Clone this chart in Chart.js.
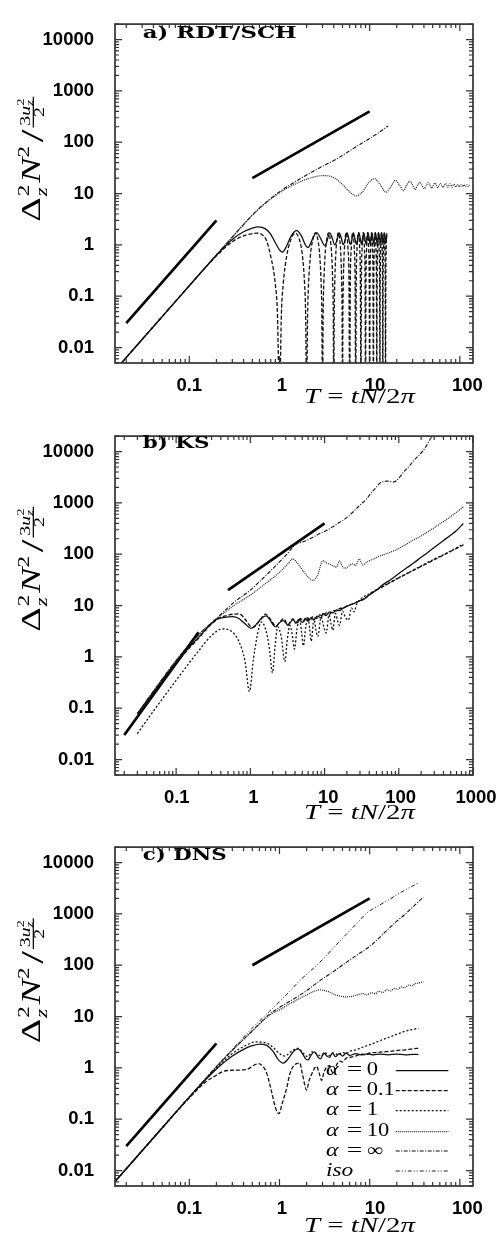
<!DOCTYPE html>
<html><head><meta charset="utf-8">
<script src="https://cdn.jsdelivr.net/npm/chart.js@4.4.1/dist/chart.umd.min.js"></script>
<style>
html,body{margin:0;padding:0;background:#fff;width:498px;height:1239px;overflow:hidden;position:relative}
canvas{position:absolute;left:0}
</style></head><body>
<canvas id="ca" width="498" height="416" style="top:0px;width:498px;height:416px"></canvas>
<canvas id="cb" width="498" height="416" style="top:412px;width:498px;height:416px"></canvas>
<canvas id="cc" width="498" height="416" style="top:823px;width:498px;height:416px"></canvas>
<script>
// ---------- tick values / labels ----------
const Y_TICKS=[0.01,0.1,1,10,100,1000,10000];
const Y_LABELS=['0.01','0.1','1','10','100','1000','10000'];
const AC_X_TICKS=[0.1,1,10,100];
const AC_X_LABELS=['0.1','1','10','100'];
const B_X_TICKS=[0.1,1,10,100,1000];
const B_X_LABELS=['0.1','1','10','100','1000'];
const LEGEND_NAMES=['α','α','α','α','α','iso'];
const LEGEND_VALUES=['0','0.1','1','10','∞',''];
const LEGEND_KEYS=['a0','a01','a1','a10','ainf','iso'];

// ---------- panel a) RDT/SCH : [T, value] ----------
const A_REF_T2=[[0.02,0.03],[0.2,3]];
const A_REF_T=[[0.5,20],[10,400]];
const A_ALPHAINF=[[0.015,0.0036],[0.05,0.04],[0.1,0.16],[0.2,0.64],[0.3,1.42],[0.5,3.8],[0.7,6.6],[1,10.8],[1.5,17],[2,23],[3,34],[4,44],[6,68],[8,93],[10,118],[13,160],[16,207]];
const A_ALPHA10=[[0.015,0.0036],[0.05,0.04],[0.1,0.16],[0.2,0.64],[0.3,1.42],[0.5,3.8],[0.7,6.5],[1,10.3],[1.4,14.5],[2,19],[3.06,22.4],[4,20.5],[5,15],[6,10.8],[7.06,9],[8.2,10.5],[9.7,16],[11.3,19.5],[13.2,14.5],[15.2,10.6],[17.3,14],[19.3,18.1],[21.5,14.5],[23.7,11.4],[25.7,14.5],[27.8,17.4],[30,14.5],[32,12],[34,14.5],[36,16.8],[38,14.5],[40.3,12.4],[42.5,14.5],[44.5,16.4],[46.5,14.5],[48.6,12.7],[50.7,14.5],[52.8,16],[55,14.5],[57,12.9],[59,14.5],[61,15.8],[63,14.5],[65.3,13.1],[67.5,14.5],[69.5,15.6],[71.5,14.5],[73.6,13.2],[75.8,14.4],[77.8,15.4],[80,14.4],[82,13.3],[84,14.4],[86,15.2],[88,14.4],[90.3,13.4],[92.5,14.4],[94.5,15.1],[96.5,14.4],[98.6,13.5],[100.7,14.4],[102.8,15],[105,14.3],[107,13.6],[109,14.3],[111,14.9],[113,14.3],[115.3,13.6],[117.5,14.3],[119.5,14.8],[121.5,14.3],[123.6,13.7],[126,14.2],[128,14.7]];
const A_ALPHA0=[[0.015,0.0036],[0.05,0.04],[0.1,0.16],[0.2,0.63],[0.3,1.28],[0.4,1.8],[0.5,2.12],[0.58,2.24],[0.7,2.05],[0.8,1.6],[0.9,1.1],[1,0.8],[1.08,0.72],[1.2,0.95],[1.35,1.5],[1.55,1.89],[1.75,1.5],[1.95,0.98],[2.08,0.89],[2.25,1.15],[2.58,1.74],[2.85,1.35],[3.2,0.96],[3.35,1.15],[3.6,1.72],[3.85,1.35],
[4.1,1.0],[4.35,1.25],[4.6,1.72],[4.85,1.35],[5.1,1.01],[5.35,1.25],[5.6,1.73],[5.85,1.36],[6.1,1.02],[6.35,1.26],[6.6,1.72],[6.85,1.36],[7.1,1.03],[7.35,1.27],[7.6,1.73],[7.85,1.37],[8.1,1.03],[8.35,1.27],[8.6,1.72],[8.85,1.37],[9.1,1.04],[9.35,1.28],[9.6,1.73],[9.85,1.38],[10.1,1.04],[10.35,1.28],[10.6,1.72],[10.85,1.38],[11.1,1.05],[11.35,1.29],[11.6,1.73],[11.85,1.38],[12.1,1.05],[12.35,1.29],[12.6,1.72],[12.85,1.39],[13.1,1.06],[13.35,1.3],[13.6,1.73],[13.85,1.39],[14.1,1.06],[14.35,1.3],[14.6,1.72],[14.85,1.4],[15.1,1.07],[15.35,1.3],[15.5,1.5]];
const A_ALPHA01=[[0.015,0.0036],[0.05,0.04],[0.1,0.16],[0.2,0.61],[0.3,1.15],[0.4,1.5],[0.5,1.66],[0.56,1.69],[0.65,1.55],[0.72,1.2],[0.8,0.6],[0.9,0.17],[0.95,0.045],[1,0.0008],[1.05,0.045],[1.1,0.17],[1.2,0.6],[1.3,1.1],[1.5,1.7],
[1.7,1.1],[1.8,0.6],[1.9,0.17],[1.95,0.045],[2,0.0008],[2.05,0.045],[2.1,0.17],[2.2,0.6],[2.3,1.1],[2.5,1.72],
[2.7,1.1],[2.8,0.6],[2.9,0.17],[2.95,0.045],[3,0.0008],[3.05,0.045],[3.1,0.17],[3.2,0.6],[3.3,1.1],[3.5,1.72],
[3.7,1.1],[3.8,0.6],[3.9,0.17],[3.95,0.045],[4,0.0008],[4.05,0.045],[4.1,0.17],[4.2,0.6],[4.3,1.1],[4.5,1.73],
[4.7,1.1],[4.8,0.6],[4.9,0.17],[4.95,0.045],[5,0.0008],[5.05,0.045],[5.1,0.17],[5.2,0.6],[5.3,1.1],[5.5,1.73],
[5.75,0.85],[5.9,0.17],[6,0.0008],[6.1,0.17],[6.25,0.85],[6.5,1.73],
[6.75,0.85],[6.9,0.17],[7,0.0008],[7.1,0.17],[7.25,0.85],[7.5,1.73],
[7.75,0.85],[7.9,0.17],[8,0.0008],[8.1,0.17],[8.25,0.85],[8.5,1.73],
[8.75,0.85],[8.9,0.17],[9,0.0008],[9.1,0.17],[9.25,0.85],[9.5,1.73],
[9.75,0.85],[9.9,0.17],[10,0.0008],[10.1,0.17],[10.25,0.85],[10.5,1.73],
[10.75,0.85],[10.9,0.17],[11,0.0008],[11.1,0.17],[11.25,0.85],[11.5,1.73],
[11.75,0.85],[11.9,0.17],[12,0.0008],[12.1,0.17],[12.25,0.85],[12.5,1.73],
[12.75,0.85],[12.9,0.17],[13,0.0008],[13.1,0.17],[13.25,0.85],[13.5,1.73],
[13.75,0.85],[13.9,0.17],[14,0.0008],[14.1,0.17],[14.25,0.85],[14.5,1.73],
[14.75,0.85],[14.9,0.17],[15,0.0008],[15.1,0.17],[15.25,0.85],[15.5,1.73]];

// ---------- panel b) KS ----------
const B_REF_T2=[[0.02,0.03],[0.2,3]];
const B_REF_T=[[0.5,20],[10,400]];
const B_ALPHAINF=[[0.03,0.078],[0.05,0.22],[0.1,0.85],[0.2,2.7],[0.35,5.6],[0.6,11.5],[1,20],[1.35,30],[2,52],[3,95],[4.2,160],[4.8,170],[5.7,185],[7,215],[8.5,250],[10.6,290],[13,345],[16,420],[19.7,510],[23,620],[27,780],[31,950],[36.6,1180],[42,1550],[48,1900],[55.6,2420],[62,2600],[70,2650],[78,2600],[84,2550],[93,2700],[105,3300],[120,4200],[140,5300],[156,6500],[180,8000],[210,10200],[240,13500],[262,17000],[290,21000]];
const B_ALPHA10=[[0.03,0.078],[0.05,0.22],[0.1,0.85],[0.2,2.7],[0.35,5.5],[0.6,10],[1,16],[1.5,25],[2.5,45],[3.2,65],[3.7,81],[4.2,70],[5,50],[6,36],[6.95,31],[8,38],[9.5,75],[10.5,68],[11.7,64],[13,60],[14.4,56],[15.9,74],[17,62],[18.7,53],[21,58],[24,65],[26,60],[28,72],[29.6,81],[31,70],[32.8,62],[36,68],[40.6,75],[45,80],[50,86],[55.6,93],[65,100],[75,108],[93,123],[120,150],[156,189],[200,225],[262,290],[350,380],[440,475],[550,600],[650,720],[741,835]];
const B_ALPHA0=[[0.03,0.078],[0.05,0.21],[0.1,0.8],[0.2,2.4],[0.345,5.3],[0.45,5.9],[0.58,6.1],[0.7,5.6],[0.85,4.4],[1.02,3.6],[1.2,4.3],[1.4,5.6],[1.63,6.3],[1.85,5.2],[2.05,4.1],[2.21,3.85],[2.45,4.6],[2.77,5.1],[3,4.6],[3.22,4.1],[3.5,4.8],[3.8,5.3],[4.1,4.5],[4.5,5.4],[5,4.7],[5.5,5.6],[6,5],[6.6,5.8],[7.2,5.3],[8,6.2],[9,5.8],[9.5,7],[10.5,6.4],[11.7,7.5],[13,7.2],[14.5,8.2],[16,8],[18,9],[20,9.6],[23,10.5],[26,11.3],[30,12.5],[35,13.8],[40,16],[50,20],[60,25],[80,33],[100,42],[130,55],[160,68],[200,87],[250,110],[320,145],[400,185],[500,235],[600,290],[741,396]];
const B_ALPHA01=[[0.03,0.07],[0.05,0.19],[0.1,0.75],[0.2,2.3],[0.345,5.2],[0.5,6.5],[0.71,6.9],[0.85,5.4],[1.07,3.7],[1.3,4.8],[1.6,6.8],[1.9,5.2],[2.2,4],[2.5,4.8],[2.8,5.6],[3.2,4.2],[3.5,5],[3.7,5.5],[4.3,4.6],[4.7,5.6],[5.2,4.8],[5.7,5.9],[6.3,5.1],[7,6.2],[7.8,5.6],[8.6,6.6],[9.5,6.3],[10.5,7.2],[11.7,6.8],[13,8],[14.5,7.9],[16,8.8],[18,8.9],[20,9.9],[23,10.6],[26,11.4],[30,12.4],[35,13.6],[40,16.5],[50,20],[60,23],[80,29],[100,34.5],[130,42],[160,49],[200,58],[250,68],[320,82],[400,96],[500,113],[600,130],[741,152]];
const B_ALPHA1=[[0.03,0.032],[0.05,0.09],[0.1,0.35],[0.2,1.3],[0.3,2.6],[0.42,3.5],[0.55,3.2],[0.7,2],[0.85,0.8],[0.97,0.21],[1.1,0.9],[1.25,2.8],[1.4,4.8],[1.6,3.5],[1.8,1.5],[1.99,0.49],[2.15,1.6],[2.34,3.85],[2.6,2.5],[2.92,0.81],[3.15,2.2],[3.41,4.1],[3.65,2.8],[3.93,1.42],[4.25,3.5],[4.6,5.5],[4.9,3],[5.17,1.64],[5.6,4],[6,5.8],[6.3,3.5],[6.6,2.03],[7.2,5.5],[7.6,3.5],[8.1,2.5],[9,6],[9.7,4],[10.5,2.9],[11.5,6.6],[12.2,4.5],[12.9,3.3],[14,7],[15,5],[15.9,4.1],[17.5,7.8],[19,6],[21,5.2],[23,9],[25,7.5],[27,10.5],[30,13],[40,17],[50,20.2],[60,23.5],[80,29.5],[100,35],[130,42.5],[160,50],[200,59],[250,70],[320,84],[400,98],[500,116],[600,133],[741,157]];

// ---------- panel c) DNS ----------
const C_REF_T2=[[0.02,0.03],[0.2,3]];
const C_REF_T=[[0.5,100],[10,2000]];
const C_ISO=[[0.015,0.0061],[0.05,0.0675],[0.1,0.27],[0.2,1.06],[0.3,2.3],[0.5,6],[0.77,12.5],[1.1,23],[1.68,50],[2.81,115],[4,220],[5.5,400],[7.2,650],[9.29,1040],[12,1380],[16,1850],[22,2600],[28,3300],[34.8,4000]];
const C_ALPHAINF=[[0.015,0.0061],[0.05,0.0675],[0.1,0.27],[0.2,1.06],[0.3,2.2],[0.5,5.3],[0.77,11],[1,15],[1.5,23],[2,32],[2.81,50],[3.95,75],[5.57,115],[7.5,165],[10.1,236],[12.5,330],[15,450],[17.5,580],[20,720],[25,1000],[30,1350],[35,1750],[39.5,2100]];
const C_ALPHA10=[[0.015,0.0061],[0.05,0.0675],[0.1,0.27],[0.2,1.05],[0.3,2.2],[0.5,5.2],[0.77,10.5],[1,13.5],[1.4,19],[2,26.5],[2.81,33],[3.5,30.5],[4.3,26],[5.57,24.2],[6.5,25],[7.5,27],[8.5,28],[9.3,26.5],[10.5,29],[11.5,28],[12.7,31],[14,29.5],[15.5,33],[17,31.5],[18.7,35],[20.5,34],[22.5,38],[24.5,36.5],[27,41],[29.5,40],[32,44],[35,45],[39.5,47.6]];
const C_ALPHA1=[[0.015,0.0061],[0.05,0.0675],[0.1,0.27],[0.2,1.0],[0.3,1.9],[0.4,2.6],[0.55,3.2],[0.7,3.1],[0.85,2.5],[1,1.9],[1.15,1.7],[1.35,2.1],[1.6,2.4],[1.85,1.9],[2.05,1.65],[2.3,2.05],[2.6,1.85],[2.9,1.7],[3.2,1.95],[3.6,1.75],[4,1.95],[4.5,1.8],[5,2.0],[5.5,1.9],[6,2.1],[7,2.25],[8,2.45],[9.3,2.7],[11,3.0],[13,3.4],[16,3.9],[20,4.5],[25,5.2],[30,5.6],[34.8,5.9]];
const C_ALPHA0=[[0.015,0.0061],[0.05,0.0675],[0.1,0.27],[0.2,0.95],[0.3,1.7],[0.4,2.3],[0.5,2.7],[0.605,2.9],[0.72,2.75],[0.85,2.1],[0.97,1.45],[1.1,1.24],[1.25,1.5],[1.4,2.0],[1.61,2.34],[1.8,1.9],[1.95,1.5],[2.08,1.43],[2.25,1.8],[2.45,2.05],[2.7,1.6],[2.85,1.5],[3.1,1.95],[3.35,1.7],[3.6,1.6],[3.85,1.95],[4.2,1.65],[4.6,1.9],[5,1.7],[5.5,1.95],[6,1.75],[7,1.9],[8,1.8],[9.5,1.88],[11,1.8],[13,1.86],[16,1.8],[20,1.85],[25,1.8],[30,1.84],[34.8,1.82]];
const C_ALPHA01=[[0.015,0.0061],[0.05,0.0675],[0.1,0.26],[0.15,0.52],[0.2,0.72],[0.237,0.85],[0.3,0.9],[0.43,0.93],[0.533,1.15],[0.6,1.2],[0.66,1.05],[0.72,0.8],[0.817,0.345],[0.9,0.17],[0.985,0.128],[1.07,0.2],[1.2,0.4],[1.3,0.75],[1.42,1.07],[1.68,1.24],[1.8,0.75],[2,0.37],[2.12,0.55],[2.27,0.75],[2.58,1.07],[2.75,0.8],[2.94,0.57],[3.1,0.8],[3.35,1.05],[3.6,1.1],[3.8,0.85],[4,0.8],[4.3,1.15],[4.7,1.35],[5,1.3],[5.5,1.55],[6,1.6],[7,1.7],[8,1.85],[9,1.8],[10,1.95],[12,2.0],[14,2.05],[17,2.1],[20,2.18],[25,2.25],[30,2.35],[34.8,2.41]];

// ---------- styles ----------
const STY={
  ref:{w:2.7,dash:[],color:'#000'},
  a0:{w:1.3,dash:[],color:'#111'},
  a01:{w:1.3,dash:[4,2],color:'#111'},
  a1:{w:1.3,dash:[2,2],color:'#111'},
  a10:{w:1.2,dash:[1,1],color:'#222'},
  ainf:{w:1.1,dash:[4,1.5,1,1.5],color:'#111'},
  iso:{w:1,dash:[4,2,1,2,1,2],color:'#222'}
};
const SERIF='"Liberation Serif","DejaVu Serif",serif';
const TICKFONT='bold 18.5px "Liberation Sans", Arial, sans-serif';

const PANELS={
  ca:{title:'a) RDT/SCH',titleW:154,titleY:38,xmin:0.015,xmax:140,xTicks:AC_X_TICKS,xLabels:AC_X_LABELS,xDx:[0,2.5,5.3,7.5],yTitleY:221.7,xTitleY:403,legend:false,
      series:[[A_ALPHA0,'a0'],[A_ALPHA01,'a01'],[A_ALPHA10,'a10'],[A_ALPHAINF,'ainf'],[A_REF_T2,'ref'],[A_REF_T,'ref']]},
  cb:{title:'b) KS',titleW:66.7,titleY:35.5,xmin:0.015,xmax:1000,xTicks:B_X_TICKS,xLabels:B_X_LABELS,xDx:[0.6,3,3.8,1.8,3],yTitleY:219.7,xTitleY:407,legend:false,
      series:[[B_ALPHA0,'a0'],[B_ALPHA01,'a01'],[B_ALPHA1,'a1'],[B_ALPHA10,'a10'],[B_ALPHAINF,'ainf'],[B_REF_T2,'ref'],[B_REF_T,'ref']]},
  cc:{title:'c) DNS',titleW:84,titleY:36.5,xmin:0.015,xmax:140,xTicks:AC_X_TICKS,xLabels:AC_X_LABELS,xDx:[0,2.5,5.3,7.5],yTitleY:220.3,xTitleY:409,legend:true,
      series:[[C_ALPHA0,'a0'],[C_ALPHA01,'a01'],[C_ALPHA1,'a1'],[C_ALPHA10,'a10'],[C_ALPHAINF,'ainf'],[C_ISO,'iso'],[C_REF_T2,'ref'],[C_REF_T,'ref']]}
};

function fitParts(ctx,parts,x,y,targetW){
  let w=0;
  parts.forEach(p=>{ctx.font=p.font;p.w=ctx.measureText(p.t).width;w+=p.w+(p.gap||0);});
  ctx.save();ctx.textAlign='left';ctx.textBaseline='alphabetic';
  ctx.translate(x,y);ctx.scale(targetW/w,1);
  let cx=0;
  parts.forEach(p=>{ctx.font=p.font;ctx.fillText(p.t,cx,p.dy||0);cx+=p.w+(p.gap||0);});
  ctx.restore();
}
function sText(ctx,t,font,x,y,sx){
  ctx.save();ctx.font=font;ctx.textAlign='left';ctx.textBaseline='alphabetic';
  ctx.translate(x,y);ctx.scale(sx,1);ctx.fillText(t,0,0);ctx.restore();
}
function yTitle(ctx,bx,by,len,sy){
  const F=20;
  const run=(draw)=>{
    let x=0;
    const put=(t,font,dy)=>{ctx.font=font;const w=ctx.measureText(t).width;if(draw)ctx.fillText(t,x,dy);return w;};
    x+=put('Δ',`${F}px ${SERIF}`,0)+0.5;
    const a=put('2',`${0.6*F}px ${SERIF}`,-0.42*F);
    const b=put('z',`italic ${0.6*F}px ${SERIF}`,0.25*F);
    x+=Math.max(a,b)+1;
    x+=put('N',`italic ${F}px ${SERIF}`,0);
    x+=put('2',`${0.6*F}px ${SERIF}`,-0.42*F)+2;
    x+=put('/',`${1.2*F}px ${SERIF}`,0.1*F)+2;
    const fs=0.52*F,ss=0.38*F,nb=-0.37*F;
    const x0=x;
    x+=put('3',`${fs}px ${SERIF}`,nb);
    x+=put('u',`italic ${fs}px ${SERIF}`,nb);
    const c=put('2',`${ss}px ${SERIF}`,nb-0.22*F);
    const d=put('z',`italic ${ss}px ${SERIF}`,nb+0.1*F);
    x+=Math.max(c,d);
    const x1=x;
    if(draw)ctx.fillRect(x0-1,-0.27*F,x1-x0+2,0.9);
    ctx.font=`${fs}px ${SERIF}`;const w2=ctx.measureText('2').width;
    if(draw)ctx.fillText('2',(x0+x1)/2-w2/2,0.13*F);
    return x1+1;
  };
  ctx.save();ctx.fillStyle='#000';ctx.textAlign='left';ctx.textBaseline='alphabetic';
  const L=run(false);
  ctx.translate(bx,by);ctx.rotate(-Math.PI/2);ctx.scale(len/L,sy);
  run(true);
  ctx.restore();
}

const deco={id:'deco',afterDraw(chart){
  const P=PANELS[chart.canvas.id];
  const ctx=chart.ctx,ca=chart.chartArea,xs=chart.scales.x,ys=chart.scales.y;
  ctx.save();
  ctx.setLineDash([]);ctx.strokeStyle='#333';ctx.lineWidth=1.2;
  ctx.beginPath();
  for(let e=-3;e<=4;e++){for(let m=1;m<=9;m++){
    const v=m*Math.pow(10,e);const L=m===1?7:4;
    if(v>=xs.min*0.9999&&v<=xs.max*1.0001){const p=xs.getPixelForValue(v);
      ctx.moveTo(p,ca.bottom);ctx.lineTo(p,ca.bottom-L);ctx.moveTo(p,ca.top);ctx.lineTo(p,ca.top+L);}
    if(v>=ys.min*0.9999&&v<=ys.max*1.0001){const p=ys.getPixelForValue(v);
      ctx.moveTo(ca.left,p);ctx.lineTo(ca.left+L,p);ctx.moveTo(ca.right,p);ctx.lineTo(ca.right-L,p);}
  }}
  ctx.stroke();
  ctx.lineWidth=1.7;ctx.strokeStyle='#333';
  ctx.strokeRect(ca.left,ca.top,ca.right-ca.left,ca.bottom-ca.top);
  ctx.fillStyle='#000';ctx.font=TICKFONT;ctx.textAlign='center';ctx.textBaseline='alphabetic';
  P.xTicks.forEach((v,i)=>ctx.fillText(P.xLabels[i],xs.getPixelForValue(v)+P.xDx[i],391));
  fitParts(ctx,[{t:P.title,font:'bold 17px "DejaVu Serif", serif'}],142.7,P.titleY,P.titleW);
  fitParts(ctx,[{t:'T',font:`italic 20px ${SERIF}`},{t:' = ',font:`20px ${SERIF}`},{t:'t',font:`italic 20px ${SERIF}`},{t:'N',font:`italic 20px ${SERIF}`},{t:'/',font:`20px ${SERIF}`},{t:'2',font:`20px ${SERIF}`},{t:'π',font:`italic 20px ${SERIF}`}],304,P.xTitleY,111);
  yTitle(ctx,40,P.yTitleY,125,1.35);
  if(P.legend){
    const rows=[247.7,267.7,287.7,308.7,328,348];
    LEGEND_KEYS.forEach((k,i)=>{
      const s=STY[k];
      ctx.save();ctx.strokeStyle=s.color;ctx.lineWidth=s.w;ctx.setLineDash(s.dash);
      ctx.beginPath();ctx.moveTo(395.7,rows[i]);ctx.lineTo(448.3,rows[i]);ctx.stroke();ctx.restore();
      const yb=rows[i]+4.5;
      ctx.fillStyle='#000';
      if(LEGEND_VALUES[i]===''){
        sText(ctx,LEGEND_NAMES[i],`italic 18px ${SERIF}`,326,yb,1.3);
      }else{
        sText(ctx,LEGEND_NAMES[i],`italic 19px ${SERIF}`,326,yb,1.25);
        sText(ctx,'=',`19px ${SERIF}`,346.7,yb,1.45);
        sText(ctx,LEGEND_VALUES[i],`18px ${SERIF}`,366.7,yb,1.25);
      }
    });
  }
  ctx.restore();
}};

function mkChart(id){
  const P=PANELS[id];
  const datasets=P.series.map(([arr,key])=>{
    const s=STY[key];
    return {data:arr.map(p=>({x:p[0],y:p[1]})),borderColor:s.color,borderWidth:s.w,borderDash:s.dash,
      pointRadius:0,pointHoverRadius:0,fill:false,tension:0,
      cubicInterpolationMode:key==='ref'?'default':'monotone',borderCapStyle:'butt',borderJoinStyle:'round'};
  });
  return new Chart(document.getElementById(id),{type:'line',data:{datasets},plugins:[deco],options:{
    responsive:false,animation:false,devicePixelRatio:1,events:[],
    layout:{padding:{left:0,top:5,right:25,bottom:0}},
    plugins:{legend:{display:false},tooltip:{enabled:false}},
    scales:{
      x:{type:'logarithmic',min:P.xmin,max:P.xmax,grid:{display:false},border:{display:false},
         ticks:{display:false},afterFit:s=>{s.height=53;}},
      y:{type:'logarithmic',min:0.005,max:20000,grid:{display:false},border:{display:false},
         afterBuildTicks:s=>{s.ticks=Y_TICKS.map(v=>({value:v}));},
         ticks:{padding:13,color:'#000',autoSkip:false,maxRotation:0,
           font:{family:'"Liberation Sans", Arial, sans-serif',size:18.5,weight:'bold'},
           callback:(v)=>{const i=Y_TICKS.findIndex(t=>Math.abs(t-v)/t<1e-6);return i>=0?Y_LABELS[i]:'';}},
         afterFit:s=>{s.width=115;}}
    }
  }});
}
mkChart('ca');mkChart('cb');mkChart('cc');
</script>
</body></html>
